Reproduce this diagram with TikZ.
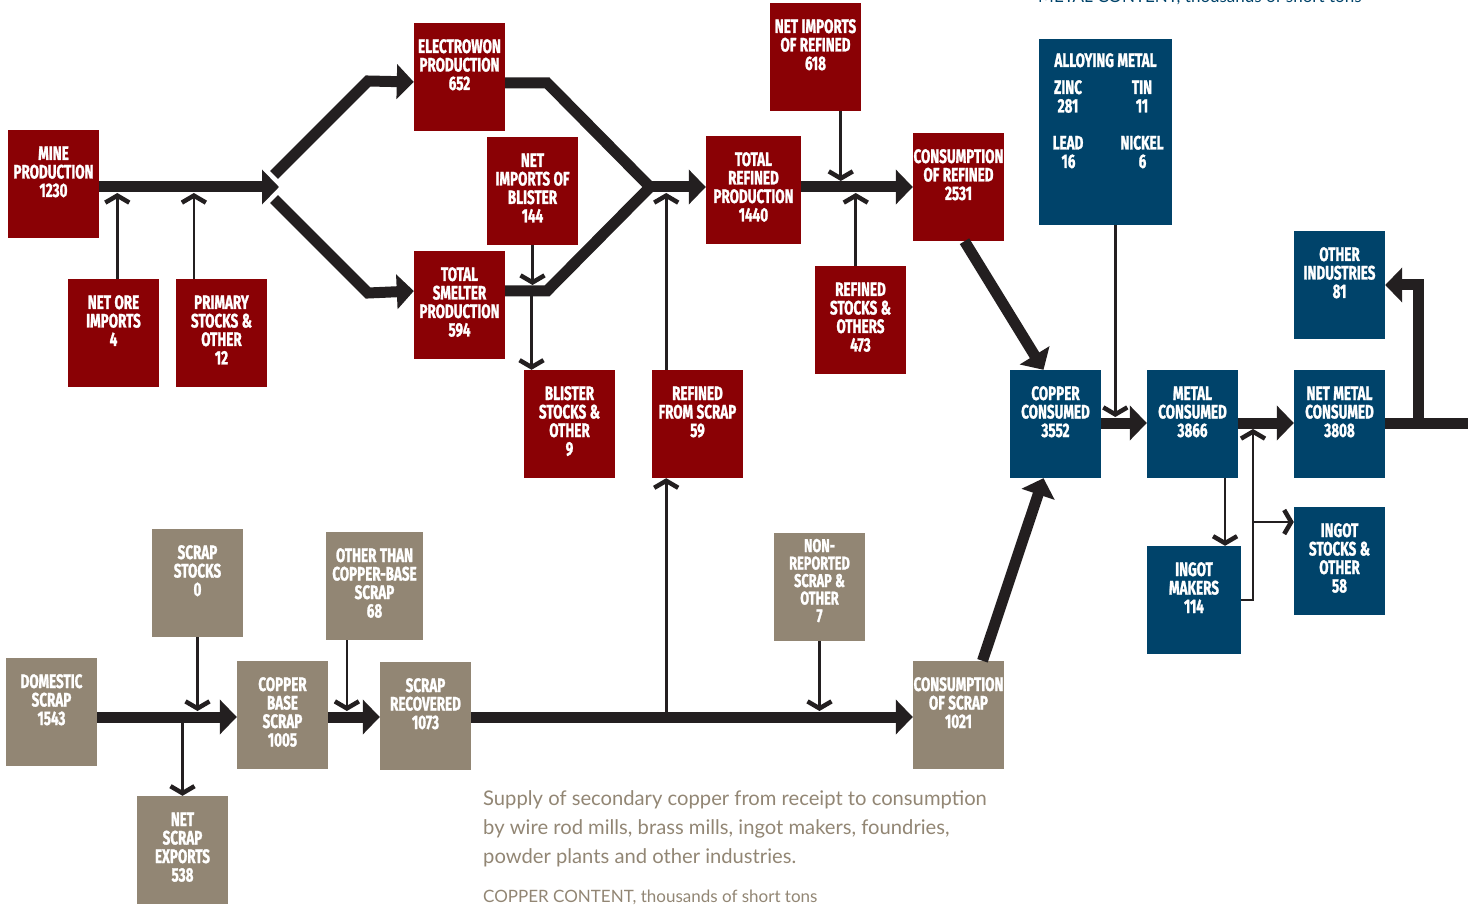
\documentclass[tikz,border=0pt]{standalone}
\usepackage{fontspec}
\usetikzlibrary{arrows.meta}
\newfontfamily\boxfont[FakeStretch=0.69, WordSpace=1.1, BoldFeatures={FakeBold=1.3}]{Fira Sans}
\newfontfamily\capfont{Lato}
\definecolor{cured}{HTML}{8A0105}
\definecolor{cublue}{HTML}{00436A}
\definecolor{cugray}{HTML}{928674}
\definecolor{ink}{HTML}{231F20}

\begin{document}
\begin{tikzpicture}[x=1pt, y=-1pt,
    box/.style={inner sep=0pt, text width=91pt, text height=30pt, text depth=78pt, align=flush center, text=white, font=\boxfont\bfseries\fontsize{19.5}{18.5}\selectfont},
    redbox/.style={box, fill=cured}, bluebox/.style={box, fill=cublue}, tanbox/.style={box, fill=cugray},
    flow/.style={draw=ink, line width=11pt, line join=miter, -{Triangle[length=17pt, width=34pt]}},
    bar/.style={draw=ink, line width=11pt, line join=miter},
    feed/.style={draw=ink, line width=2.6pt, -{Straight Barb[length=7pt, width=24pt, line width=4.5pt]}},
    capnote/.style={inner sep=0pt, align=left, text=cugray, font=\capfont\fontsize{20.2}{29}\selectfont}]
    \useasboundingbox (0,0) rectangle (1468,909);

    \node[redbox] (mine) at (53.5,184) {MINE\\PRODUCTION\\1230};
    \node[redbox] (ore) at (113.5,333) {NET ORE\\IMPORTS\\4};
    \node[redbox] (prim) at (221.5,333) {PRIMARY\\STOCKS \&\\OTHER\\12};
    \node[redbox] (ew) at (459.5,77) {ELECTROWON\\PRODUCTION\\652};
    \node[redbox] (smelt) at (459.5,305) {TOTAL\\SMELTER\\PRODUCTION\\594};
    \node[redbox] (blimp) at (532.5,191) {NET\\IMPORTS OF\\BLISTER\\144};
    \node[redbox] (blst) at (569.5,424) {BLISTER\\STOCKS \&\\OTHER\\9};
    \node[redbox] (rfs) at (697.5,424) {REFINED\\FROM SCRAP\\59};
    \node[redbox, text width=95pt] (tref) at (753.5,190) {TOTAL\\REFINED\\PRODUCTION\\1440};
    \node[redbox] (rimp) at (815.5,57) {NET IMPORTS\\OF REFINED\\618};
    \node[redbox] (rst) at (860.5,320) {REFINED\\STOCKS \&\\OTHERS\\473};
    \node[redbox] (cref) at (958.5,187) {CONSUMPTION\\OF REFINED\\2531};

    \node[bluebox, text width=133pt, text height=28pt, text depth=158pt] (alloy) at (1105.5,132) {ALLOYING METAL\\[8.5pt]
      \hspace*{-8pt}\makebox[74pt]{ZINC}\makebox[74pt]{TIN}\hspace*{-8pt}\\
      \hspace*{-8pt}\makebox[74pt]{281}\makebox[74pt]{11}\hspace*{-8pt}\\[18.5pt]
      \hspace*{-8pt}\makebox[74pt]{LEAD}\makebox[74pt]{NICKEL}\hspace*{-8pt}\\
      \hspace*{-8pt}\makebox[74pt]{16}\makebox[74pt]{6}\hspace*{-8pt}};
    \node[bluebox] (ccu) at (1055.5,424) {COPPER\\CONSUMED\\3552};
    \node[bluebox] (cmet) at (1192.5,424) {METAL\\CONSUMED\\3866};
    \node[bluebox, text width=94pt] (ingm) at (1194,600) {INGOT\\MAKERS\\114};
    \node[bluebox] (nmet) at (1339.5,424) {NET METAL\\CONSUMED\\3808};
    \node[bluebox] (oind) at (1339.5,285) {OTHER\\INDUSTRIES\\81};
    \node[bluebox] (ingst) at (1339.5,561) {INGOT\\STOCKS \&\\OTHER\\58};

    \node[tanbox] (dom) at (51.5,712) {DOMESTIC\\SCRAP\\1543};
    \node[tanbox] (sst) at (197.5,583) {SCRAP\\STOCKS\\0};
    \node[tanbox] (sexp) at (182.5,850) {NET\\SCRAP\\EXPORTS\\538};
    \node[tanbox] (cbs) at (282.5,715) {COPPER\\BASE\\SCRAP\\1005};
    \node[tanbox, text width=97pt] (oth) at (374.5,586) {OTHER THAN\\COPPER-BASE\\SCRAP\\68};
    \node[tanbox] (srec) at (425.5,716) {SCRAP\\RECOVERED\\1073};
    \node[tanbox, text height=19pt, text depth=89pt, font=\boxfont\bfseries\fontsize{18.5}{17.5}\selectfont] (nrep) at (819.5,587) {NON-\\REPORTED\\SCRAP \&\\OTHER\\7};
    \node[tanbox] (cscr) at (958.5,715) {CONSUMPTION\\OF SCRAP\\1021};

    \node[capnote, anchor=north west] (note) at (483,790) {Supply of secondary copper from receipt to consumption\\by wire rod mills, brass mills, ingot makers, foundries,\\powder plants and other industries.};
    \node[capnote, anchor=west, font=\capfont\fontsize{17}{20}\selectfont] (unit) at (483,897) {COPPER CONTENT, thousands of short tons};
    \node[capnote, anchor=base west, text=cublue, font=\capfont\fontsize{17}{20}\selectfont] (munit) at (1038,3) {METAL CONTENT, thousands of short tons};

    \coordinate (minebar) at (0,187);
    \coordinate (split) at (279,187);
    \coordinate (merge) at (650,187);
    \coordinate (sbar) at (0,291);
    \coordinate (scrapbar) at (0,717);
    \coordinate (bluebar) at (0,423);
    \coordinate (rise) at (1418,423);
    \coordinate (exit) at (1468,423);
    \coordinate (tap) at (1253,522);

    \draw[flow] (mine.east |- minebar) -- (split);
    \draw[flow] ([shift={(-5,-12)}]split) -- ++(94,-94) -- ([yshift=-5pt]ew.west);
    \draw[flow] ([shift={(-5,12)}]split) -- ++(94,94) -- ([yshift=14pt]smelt.west);
    \draw[bar] ([yshift=-6pt]ew.east) -- ++(42,0) -- (merge) -- ++(-103,104) -- ([yshift=14pt]smelt.east);
    \draw[flow] (merge) -- (tref.west |- merge);
    \draw[flow] (tref.east |- merge) -- (cref.west |- merge);
    \draw[flow] ([xshift=6pt]cref.south) -- ([xshift=-12pt]ccu.north);

    \draw[feed, shorten >=6pt] (ore.86) -- (ore.86 |- minebar);
    \draw[feed, shorten >=6pt] (prim.117) -- (prim.117 |- minebar);
    \draw[feed, shorten >=6pt] (blimp.south) -- (blimp.south |- sbar);
    \draw[feed] (blst.125 |- sbar) -- (blst.125);
    \draw[feed, shorten >=6pt] (rfs.120) -- (rfs.120 |- merge);
    \draw[feed, shorten >=6pt] (rimp.295) -- (rimp.295 |- merge);
    \draw[feed, shorten >=6pt] (rst.95) -- (rst.95 |- merge);

    \draw[flow] (dom.east |- scrapbar) -- (cbs.west |- scrapbar);
    \draw[flow] (cbs.east |- scrapbar) -- (srec.west |- scrapbar);
    \draw[flow] (srec.east |- scrapbar) -- (cscr.west |- scrapbar);
    \draw[flow] ([xshift=24pt]cscr.north) -- ([xshift=-12pt]ccu.south);
    \draw[feed, shorten >=6pt] (sst.south) -- (sst.south |- scrapbar);
    \draw[feed] (sexp.north |- scrapbar) -- (sexp.north);
    \draw[feed, shorten >=6pt] (oth.243) -- (oth.243 |- scrapbar);
    \draw[feed, shorten >=6pt] (nrep.south) -- (nrep.south |- scrapbar);
    \draw[feed] (rfs.240 |- scrapbar) -- (rfs.240);

    \draw[flow] (ccu.east |- bluebar) -- (cmet.west |- bluebar);
    \draw[flow] (cmet.east |- bluebar) -- (nmet.west |- bluebar);
    \draw[bar] (nmet.east |- bluebar) -- (exit);
    \draw[flow] (rise) |- (oind.east);
    \draw[feed, shorten >=6pt] (alloy.276) -- (alloy.276 |- bluebar);
    \draw[feed] (cmet.301) -- (cmet.301 |- ingm.north);
    \draw[feed, shorten >=6pt] (ingm.east) -| (tap |- bluebar);
    \draw[feed] (tap) -- (tap -| ingst.west);
\end{tikzpicture}
\end{document}
